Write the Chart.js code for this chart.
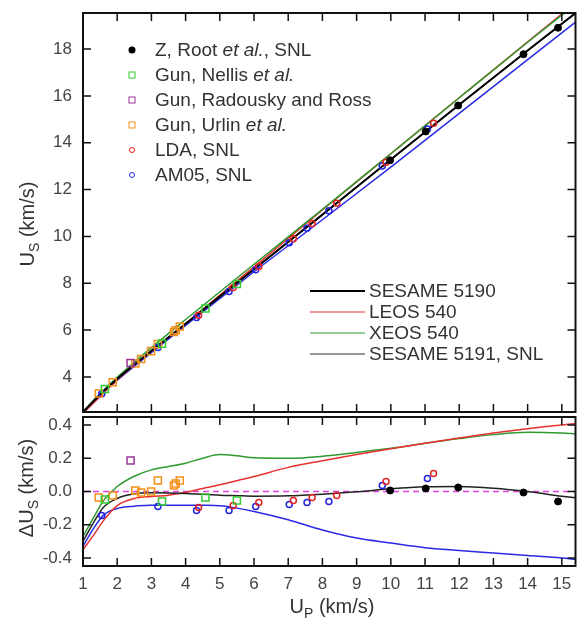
<!DOCTYPE html>
<html>
<head>
<meta charset="utf-8">
<script src="https://cdn.jsdelivr.net/npm/chart.js@4.4.1/dist/chart.umd.min.js"></script>
<style>
  body { margin: 0; background: #fff; }
  #wrap { position: relative; width: 582px; height: 622px; font-family: "Liberation Sans", Arial, sans-serif; color: #333; }
  canvas { position: absolute; left: 0; top: 0; }
  .title { position: absolute; white-space: nowrap; font-size: 20px; transform: translate(-50%, -50%); }
  .title.rot { transform: translate(-50%, -50%) rotate(-90deg); }
  sub { font-size: 0.7em; vertical-align: baseline; position: relative; top: 0.35em; }
  .txt { position: absolute; white-space: nowrap; font-size: 19px; transform: translateY(-50%); }
  .mk { position: absolute; box-sizing: border-box; transform: translate(-50%, -50%); }
  .ln { position: absolute; width: 55px; transform: translateY(-50%); }
</style>
</head>
<body>
<div id="wrap">
  <canvas id="topChart" width="582" height="622"></canvas>
  <canvas id="bottomChart" width="582" height="622"></canvas>
  <div class="title rot" style="left:27px; top:224px">U<sub>S</sub> (km/s)</div>
  <div class="title rot" style="left:26px; top:488px">&Delta;U<sub>S</sub> (km/s)</div>
  <div class="title" style="left:332px; top:606px">U<sub>P</sub> (km/s)</div>
  <div id="legends"></div>
</div>
<script>
// ---- measured points: particle velocity, shock velocity, deviation ----
const zUp  = [9.98, 11.02, 11.97, 13.88, 14.89];
const zUs  = [13.25, 14.48, 15.59, 17.78, 18.91];
const zDUs = [0.006, 0.018, 0.024, -0.006, -0.06];

const nellisUp  = [1.64, 3.31, 4.58, 5.5];
const nellisUs  = [3.48, 5.42, 6.92, 7.97];
const nellisDUs = [-0.048, -0.06, -0.036, -0.054];

const radouskyUp  = [2.39];
const radouskyUs  = [4.59];
const radouskyDUs = [0.186];

const urlinUp  = [1.46, 1.87, 2.53, 2.70, 2.99, 3.19, 3.66, 3.71, 3.83];
const urlinUs  = [3.29, 3.77, 4.57, 4.76, 5.10, 5.40, 5.92, 5.99, 6.15];
const urlinDUs = [-0.036, -0.024, 0.006, -0.006, 0.0, 0.066, 0.036, 0.048, 0.066];

const ldaUp  = [4.38, 5.39, 6.14, 7.15, 7.7, 8.42, 9.86, 11.25];
const ldaUs  = [6.63, 7.82, 8.71, 9.90, 10.55, 11.41, 13.17, 14.83];
const ldaDUs = [-0.096, -0.084, -0.066, -0.054, -0.036, -0.024, 0.06, 0.108];

const am05Up  = [1.55, 3.19, 4.32, 5.27, 6.05, 7.03, 7.55, 8.19, 9.75, 11.07];
const am05Us  = [3.28, 5.25, 6.54, 7.65, 8.58, 9.73, 10.35, 11.10, 13.01, 14.59];
const am05DUs = [-0.144, -0.09, -0.114, -0.114, -0.09, -0.078, -0.066, -0.06, 0.036, 0.078];

// ---- model curves, upper panel ----
const curveUp   = [1, 1.5, 2, 3, 4, 6, 8, 10, 12, 14, 15.4];
const ses5190Us = [2.50, 3.25, 3.92, 5.11, 6.27, 8.60, 10.93, 13.28, 15.62, 17.94, 19.54];
const ses5191Us = [2.49, 3.25, 3.91, 5.11, 6.27, 8.58, 10.92, 13.29, 15.63, 17.93, 19.52];
const leosUs    = [2.44, 3.16, 3.87, 5.09, 6.28, 8.70, 11.13, 13.53, 15.92, 18.31, 19.97];
const xeosUs    = [2.52, 3.28, 3.98, 5.25, 6.45, 8.81, 11.15, 13.53, 15.92, 18.29, 19.91];
const blueUs    = [2.46, 3.20, 3.85, 5.03, 6.20, 8.49, 10.71, 12.96, 15.25, 17.55, 19.15];

// ---- model curves, lower panel (deviation) ----
const devUp     = [1, 1.3, 1.6, 2, 2.5, 3, 3.5, 4, 4.5, 5, 5.5, 6, 7, 8, 9, 10, 11, 12, 13, 14, 15, 15.4];
const ses5191Dev = [-0.30, -0.19, -0.095, -0.042, -0.014, -0.008, -0.009, -0.012, -0.017, -0.022, -0.025, -0.028, -0.026, -0.016, -0.002, 0.016, 0.028, 0.030, 0.020, 0.0, -0.028, -0.038];
const leosDev    = [-0.35, -0.265, -0.175, -0.085, -0.042, -0.030, -0.022, -0.005, 0.018, 0.040, 0.065, 0.090, 0.145, 0.185, 0.222, 0.257, 0.290, 0.322, 0.352, 0.378, 0.400, 0.408];
const xeosDev    = [-0.27, -0.16, -0.055, 0.03, 0.092, 0.13, 0.15, 0.17, 0.20, 0.222, 0.215, 0.203, 0.20, 0.212, 0.235, 0.26, 0.29, 0.318, 0.342, 0.356, 0.352, 0.348];
const blueDev    = [-0.33, -0.225, -0.142, -0.102, -0.088, -0.083, -0.082, -0.082, -0.083, -0.086, -0.10, -0.12, -0.17, -0.232, -0.28, -0.31, -0.338, -0.355, -0.37, -0.385, -0.40, -0.408];
const zeroUp  = [1, 15.4];
const zeroDev = [0, 0];

const tickFont = { family: 'Liberation Sans', size: 17 };

const pts = (xs, ys) => xs.map((v, i) => ({ x: v, y: ys[i] }));
const onStep = (v, s) => Math.abs(v / s - Math.round(v / s)) < 1e-6;

// frame and inward tick marks on all four sides
function frameTicks(cfg) {
  return {
    id: 'frameTicks',
    afterDraw(chart) {
      const { ctx, chartArea: a } = chart;
      const x = chart.scales.x, y = chart.scales.y;
      const len = (v, maj, min) => onStep(v, maj) ? 8 : (onStep(v, min) ? 4.5 : 0);
      ctx.save();
      ctx.strokeStyle = '#111';
      ctx.lineWidth = 1.5;
      ctx.beginPath();
      x.ticks.forEach(t => {
        const l = len(t.value, 1, 0.5);
        if (!l) return;
        const p = x.getPixelForValue(t.value);
        ctx.moveTo(p, a.bottom); ctx.lineTo(p, a.bottom - l);
        ctx.moveTo(p, a.top); ctx.lineTo(p, a.top + l);
      });
      y.ticks.forEach(t => {
        const l = len(t.value, cfg.yMajor, cfg.yMinor);
        if (!l) return;
        const p = y.getPixelForValue(t.value);
        ctx.moveTo(a.left, p); ctx.lineTo(a.left + l, p);
        ctx.moveTo(a.right, p); ctx.lineTo(a.right - l, p);
      });
      ctx.stroke();
      ctx.lineWidth = 2;
      ctx.strokeRect(a.left, a.top, a.width, a.height);
      ctx.restore();
    }
  };
}

function markerSets(ys) {
  return [
    { data: pts(zUp, ys.z), pointStyle: 'circle', pointRadius: 3.5, backgroundColor: '#000', borderColor: '#000', borderWidth: 1, order: 0 },
    { data: pts(nellisUp, ys.nellis), pointStyle: 'rect', pointRadius: 5, backgroundColor: 'rgba(0,0,0,0)', borderColor: '#33cc33', borderWidth: 1.5, order: 0 },
    { data: pts(radouskyUp, ys.radousky), pointStyle: 'rect', pointRadius: 5, backgroundColor: 'rgba(0,0,0,0)', borderColor: '#993399', borderWidth: 1.5, order: 0 },
    { data: pts(urlinUp, ys.urlin), pointStyle: 'rect', pointRadius: 5, backgroundColor: 'rgba(0,0,0,0)', borderColor: '#f39019', borderWidth: 1.5, order: 0 },
    { data: pts(ldaUp, ys.lda), pointStyle: 'circle', pointRadius: 3, backgroundColor: 'rgba(0,0,0,0)', borderColor: '#e62222', borderWidth: 1.5, order: 0 },
    { data: pts(am05Up, ys.am05), pointStyle: 'circle', pointRadius: 3, backgroundColor: 'rgba(0,0,0,0)', borderColor: '#2424e0', borderWidth: 1.5, order: 0 }
  ];
}

function line(xs, ys, color, width, dash) {
  return { data: pts(xs, ys), showLine: true, pointRadius: 0, borderColor: color, borderWidth: width,
           borderDash: dash || [], cubicInterpolationMode: 'monotone', order: 1 };
}

function options(pad, xHeight, yMin, yMax, yMajor, yMinor, yFmt) {
  return {
    responsive: false,
    animation: false,
    layout: { padding: pad },
    plugins: { legend: { display: false }, tooltip: { enabled: false } },
    scales: {
      x: {
        type: 'linear', min: 1, max: 15.4,
        grid: { display: false, drawTicks: false }, border: { display: false },
        afterFit: s => { s.height = xHeight; s.paddingLeft = 0; s.paddingRight = 0; },
        ticks: { display: xHeight > 0, stepSize: 0.5, includeBounds: false, autoSkip: false, maxRotation: 0,
                 padding: 8, color: '#444', font: tickFont,
                 callback: v => onStep(v, 1) ? String(Math.round(v)) : null }
      },
      y: {
        type: 'linear', min: yMin, max: yMax,
        grid: { display: false, drawTicks: false }, border: { display: false },
        afterFit: s => { s.width = 83; s.paddingTop = 0; s.paddingBottom = 0; },
        ticks: { stepSize: yMinor, includeBounds: false, autoSkip: false, padding: 11, color: '#444', font: tickFont,
                 callback: v => onStep(v, yMajor) ? yFmt(v) : null }
      }
    }
  };
}

new Chart(document.getElementById('topChart'), {
  type: 'scatter',
  data: {
    datasets: [
      ...markerSets({ z: zUs, nellis: nellisUs, radousky: radouskyUs, urlin: urlinUs, lda: ldaUs, am05: am05Us }),
      line(curveUp, ses5190Us, '#000', 2),
      line(curveUp, ses5191Us, '#333', 1.2),
      line(curveUp, xeosUs, '#2f9a2f', 1.5),
      line(curveUp, leosUs, '#e8302e', 1.5),
      line(curveUp, blueUs, '#2a2ae6', 1.5)
    ]
  },
  options: options({ top: 13, right: 2, bottom: 210, left: 0 }, 0, 2.5, 19.54, 2, 1, v => String(Math.round(v))),
  plugins: [frameTicks({ yMajor: 2, yMinor: 1 })]
});

new Chart(document.getElementById('bottomChart'), {
  type: 'scatter',
  data: {
    datasets: [
      ...markerSets({ z: zDUs, nellis: nellisDUs, radousky: radouskyDUs, urlin: urlinDUs, lda: ldaDUs, am05: am05DUs }),
      line(devUp, ses5191Dev, '#222', 1.5),
      line(devUp, leosDev, '#e8302e', 1.5),
      line(devUp, xeosDev, '#2f9a2f', 1.5),
      line(devUp, blueDev, '#2a2ae6', 1.5),
      line(zeroUp, zeroDev, '#e040e0', 1.5, [6, 4])
    ]
  },
  options: options({ top: 417, right: 2, bottom: 0, left: 0 }, 56, -0.448, 0.448, 0.2, 0.1,
                   v => Math.abs(v) < 1e-9 ? '0.0' : v.toFixed(1)),
  plugins: [frameTicks({ yMajor: 0.2, yMinor: 0.1 })]
});

// ---- legends (HTML so that "et al." can be italic) ----
const pointLegend = [
  { html: 'Z, Root <i>et al.</i>, SNL', mk: 'width:7px;height:7px;border-radius:50%;background:#000;' },
  { html: 'Gun, Nellis <i>et al.</i>', mk: 'width:7px;height:7px;border:1.5px solid #33cc33;' },
  { html: 'Gun, Radousky and Ross', mk: 'width:7px;height:7px;border:1.5px solid #993399;' },
  { html: 'Gun, Urlin <i>et al.</i>', mk: 'width:7px;height:7px;border:1.5px solid #f39019;' },
  { html: 'LDA, SNL', mk: 'width:6px;height:6px;border-radius:50%;border:1.5px solid #e62222;' },
  { html: 'AM05, SNL', mk: 'width:6px;height:6px;border-radius:50%;border:1.5px solid #2424e0;' }
];
const lineLegend = [
  { text: 'SESAME 5190', css: 'border-top:2px solid #000;' },
  { text: 'LEOS 540', css: 'border-top:1.5px solid #e8302e;' },
  { text: 'XEOS 540', css: 'border-top:1.5px solid #2f9a2f;' },
  { text: 'SESAME 5191, SNL', css: 'border-top:1.5px solid #333;' }
];
let html = '';
pointLegend.forEach((e, i) => {
  const y = 50 + i * 25;
  html += `<div class="mk" style="left:132px;top:${y}px;${e.mk}"></div>`;
  html += `<div class="txt" style="left:155px;top:${y}px">${e.html}</div>`;
});
lineLegend.forEach((e, i) => {
  const y = 291 + i * 21;
  html += `<div class="ln" style="left:310px;top:${y}px;${e.css}"></div>`;
  html += `<div class="txt" style="left:369px;top:${y}px">${e.text}</div>`;
});
document.getElementById('legends').innerHTML = html;
</script>
</body>
</html>
